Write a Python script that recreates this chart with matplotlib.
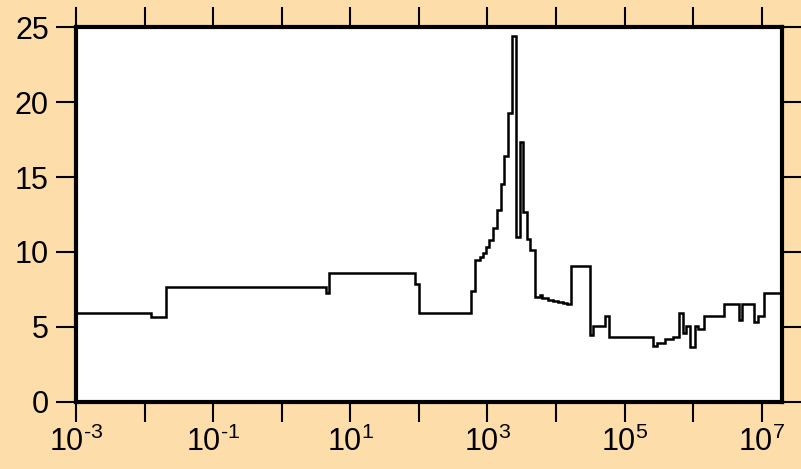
import numpy as np
import matplotlib
matplotlib.use("Agg")
import matplotlib.pyplot as plt
from matplotlib.ticker import LogLocator, FixedLocator, FuncFormatter, NullLocator

plt.rcParams['font.family'] = ['Liberation Sans', 'DejaVu Sans']
plt.rcParams['mathtext.fontset'] = 'custom'
plt.rcParams['mathtext.rm'] = 'Liberation Sans'

# bin edges (x) and the value in each bin
edges = [1e-3, 0.01227, 0.02051, 4.365, 4.920, 88.3, 99.1, 582, 655, 774,
         857, 964, 1067, 1211, 1384, 1567, 1734, 2004, 2291, 2655,
         2965, 3319, 3793, 4246, 4955, 5808, 6353, 7586, 8974, 10617,
         12560, 14355, 16827, 31842, 34754, 51404, 58884, 260016, 297852, 385478,
         509331, 622300, 712853, 798000, 891251, 1.054e6, 1.178e6, 1.429e6, 2.793e6, 4.667e6,
         5.224e6, 7.638e6, 8.954e6, 1.069e7, 1.959e7]
values = [5.91, 5.65, 7.69, 7.24, 8.62, 7.87, 5.96, 7.42, 9.47,
          9.69, 9.91, 10.3, 10.8, 11.58, 12.8, 14.5, 16.4, 19.3, 24.4,
          10.98, 17.36, 12.69, 10.84, 10.13, 7.02, 7.13, 6.91, 6.82, 6.74,
          6.66, 6.58, 6.50, 9.07, 4.47, 5.07, 5.73, 4.31, 3.76, 3.96,
          4.18, 4.31, 5.96, 4.58, 5.07, 3.64, 5.07, 4.84, 5.73, 6.53,
          5.47, 6.53, 5.36, 5.73, 7.29]

bg = '#FDDEAB'


def decade_label(v, pos):
    e = int(round(np.log10(v)))
    if e % 2 == 0:
        return ''
    sup = str(e).replace('-', r'\text{-}')
    return r'$\mathregular{10^{%s}}$' % sup


fig = plt.figure(figsize=(8.01, 4.69), dpi=100, facecolor=bg)
ax = fig.add_axes([0.0949, 0.1429, 0.881, 0.7995])
ax.set_facecolor('white')

ax.stairs(values, edges, color='black', linewidth=1.8, baseline=None)

ax.set_xscale('log')
ax.set_xlim(1e-3, 1.959e7)
ax.set_ylim(0, 25)

ax.xaxis.set_major_locator(LogLocator(base=10, numticks=20))
ax.xaxis.set_minor_locator(NullLocator())
ax.xaxis.set_major_formatter(FuncFormatter(decade_label))
ax.yaxis.set_major_locator(FixedLocator([0, 5, 10, 15, 20, 25]))

for s in ax.spines.values():
    s.set_linewidth(3)

ax.tick_params(axis='both', which='major', direction='out', length=14.5,
               width=1.5, labelsize=22, top=True, right=True,
               labeltop=False, labelright=False, color='black')
ax.tick_params(axis='x', pad=3)
ax.tick_params(axis='y', pad=5)

fig.savefig('out.png', dpi=100, facecolor=bg)
